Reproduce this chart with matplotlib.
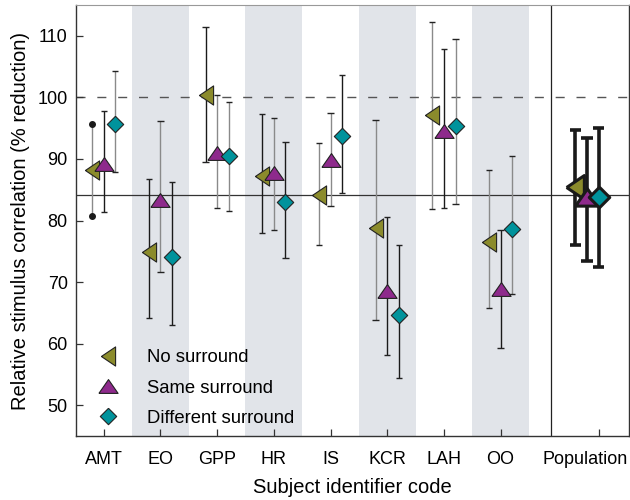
import matplotlib
matplotlib.use("Agg")
import matplotlib.pyplot as plt
import matplotlib.transforms as mtransforms
import numpy as np
from matplotlib.lines import Line2D

plt.rcParams['font.family'] = ['Liberation Sans', 'DejaVu Sans']

# Per-subject results: marker value with lower / upper error limits
subjects = ["AMT", "EO", "GPP", "HR", "IS", "KCR", "LAH", "OO"]

no_mean = [88.2, 74.9, 100.4, 87.3, 84.2, 78.8, 97.1, 76.5]
no_lo = [80.7, 64.1, 89.5, 78.0, 76.1, 63.9, 81.9, 65.8]
no_hi = [95.7, 86.8, 111.5, 97.3, 92.6, 96.3, 112.2, 88.2]

same_mean = [89.2, 83.4, 91.0, 87.7, 89.9, 68.6, 94.6, 68.9]
same_lo = [81.4, 71.7, 82.0, 78.5, 82.3, 58.1, 82.0, 59.3]
same_hi = [97.8, 96.1, 100.4, 96.7, 97.5, 80.5, 107.9, 78.5]

diff_mean = [95.7, 74.0, 90.4, 83.0, 93.8, 64.7, 95.4, 78.6]
diff_lo = [87.8, 63.1, 81.6, 73.9, 84.5, 54.5, 82.7, 68.1]
diff_hi = [104.2, 86.2, 99.2, 92.7, 103.7, 76.1, 109.5, 90.4]

# Whisker shade per subject and condition (d = dark, g = grey)
no_whisker = ["g", "d", "d", "d", "g", "g", "g", "g"]
same_whisker = ["d", "g", "g", "g", "g", "d", "d", "d"]
diff_whisker = ["g", "d", "g", "d", "d", "d", "g", "g"]

# Population summary (no, same, different surround)
pop_label = "Population"
pop_mean = [85.4, 83.8, 83.8]
pop_lo = [76.1, 73.4, 72.4]
pop_hi = [94.7, 93.4, 95.0]
pop_level = 84.2
reference_level = 100

labels = ["No surround", "Same surround", "Different surround"]
colors = ["#8b8b2c", "#8e2a8c", "#00939c"]
edge = "#222222"
shade = {"d": "#1a1a1a", "g": "#8a8a8a"}

# Marker outlines
tri_left = [(-0.74, 0.0), (0.74, 1.0), (0.74, -1.0), (-0.74, 0.0)]
tri_up = [(-1.0, -0.72), (1.0, -0.72), (0.0, 0.72), (-1.0, -0.72)]
diamond = [(0, 1), (1, 0), (0, -1), (-1, 0), (0, 1)]
markers = [tri_left, tri_up, diamond]
msizes = [13.8, 13.8, 11.8]

fig = plt.figure(figsize=(6.3, 5.0), dpi=100)
ax = fig.add_axes([0.1206, 0.128, 0.8774, 0.862])

x = np.arange(len(subjects))
pop_x = 8.73
divider_x = 7.88
offset = 0.205

# Shaded bands behind alternate subjects
for i in range(1, len(subjects), 2):
    ax.axvspan(i - 0.5, i + 0.5, color="#e1e4e9", lw=0, zorder=0)

ax.axhline(reference_level, color="#555555", lw=1.0, ls=(0, (6.5, 8.5)), zorder=1)
ax.axhline(pop_level, color="#333333", lw=0.9, zorder=1)
ax.axvline(divider_x, color="#222222", lw=0.9, zorder=1)

series = [
    (no_mean, no_lo, no_hi, no_whisker),
    (same_mean, same_lo, same_hi, same_whisker),
    (diff_mean, diff_lo, diff_hi, diff_whisker),
]

for k, (m, lo, hi, wh) in enumerate(series):
    xs = x + (k - 1) * offset
    for i in range(len(subjects)):
        c = shade[wh[i]]
        ax.vlines(xs[i], lo[i], hi[i], color=c, lw=1.0, zorder=2)
        if k == 0 and i == 0:
            # dotted ends on this whisker
            ax.plot([xs[i], xs[i]], [lo[i], hi[i]], ls="none", marker="o",
                    ms=4, color="#1a1a1a", zorder=3)
        else:
            ax.hlines([lo[i], hi[i]], xs[i] - 0.055, xs[i] + 0.055,
                      color="#222222", lw=1.0, zorder=2)
    ax.plot(xs, m, ls="none", marker=markers[k], ms=msizes[k],
            mfc=colors[k], mec=edge, mew=0.8, zorder=4)

# Population summary with heavy whiskers
for k in range(3):
    px = pop_x + (k - 2) * offset
    ax.vlines(px, pop_lo[k], pop_hi[k], color="#1a1a1a", lw=2.6, zorder=2)
    ax.hlines([pop_lo[k], pop_hi[k]], px - 0.1, px + 0.1,
              color="#1a1a1a", lw=2.6, zorder=2)
    ax.plot([px], [pop_mean[k]], ls="none", marker=markers[k],
            ms=msizes[k] * 1.25, mfc=colors[k], mec="#1a1a1a", mew=2.2,
            zorder=5 + k)

ax.set_xlim(-0.49, 9.26)
ax.set_ylim(45, 115)
ax.set_xticks(list(x) + [pop_x])
ax.set_xticklabels(subjects + [pop_label], fontsize=13)
ax.set_yticks([50, 60, 70, 80, 90, 100, 110])
ax.tick_params(axis="both", direction="in", length=5, width=0.9,
               labelsize=13, color="#333333")
ax.tick_params(axis="y", pad=6)
ax.tick_params(axis="x", pad=11)

# keep the last category label inside the figure
last = ax.get_xticklabels()[-1]
last.set_transform(last.get_transform() +
                   mtransforms.ScaledTranslation(-14 / 100, 0, fig.dpi_scale_trans))

for side in ["left", "bottom", "right"]:
    ax.spines[side].set_color("#333333")
    ax.spines[side].set_linewidth(1.0)
ax.spines["top"].set_color("#999999")

ax.set_xlabel("Subject identifier code", fontsize=14.5, labelpad=7)
ax.set_ylabel("Relative stimulus correlation (% reduction)", fontsize=14.5,
              labelpad=5)

handles = [Line2D([], [], ls="none", marker=markers[k], ms=msizes[k],
                  mfc=colors[k], mec=edge, mew=0.8) for k in range(3)]
ax.legend(handles, labels, loc="lower left", bbox_to_anchor=(0.018, 0.004),
          borderaxespad=0.0, frameon=False, fontsize=13.3, handletextpad=1.3,
          labelspacing=0.72, handlelength=1.6)

fig.savefig("out.png", dpi=100)
